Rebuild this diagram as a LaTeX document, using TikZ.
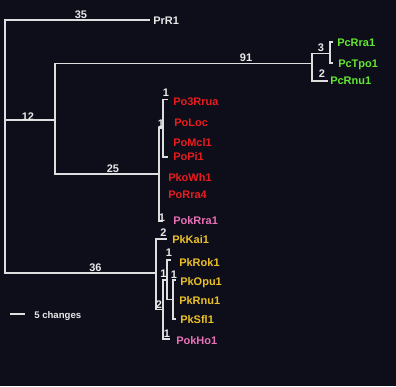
\documentclass[tikz,border=0pt]{standalone}
\usepackage{fontspec}
\setmainfont{Liberation Sans}
\definecolor{bg}{RGB}{14,14,27}
\definecolor{ln}{RGB}{222,222,222}
\definecolor{tx}{RGB}{232,232,232}
\definecolor{pgreen}{RGB}{98,230,48}
\definecolor{pred}{RGB}{232,28,30}
\definecolor{ppink}{RGB}{232,112,182}
\definecolor{pyellow}{RGB}{234,192,40}
\begin{document}
\begin{tikzpicture}[
  x=0.75pt, y=-0.75pt,
  font=\bfseries\fontsize{8.25}{9}\selectfont,
  br/.style={draw=ln, line width=1pt},
  tip/.style={anchor=west, inner sep=0pt, text height=6pt, text depth=0pt},
  num/.style={inner sep=0pt, text height=6pt, text depth=0pt, text=tx},
]
\fill[bg] (0,0) rectangle (396,386);
\useasboundingbox (0,0) rectangle (396,386);
\foreach \n/\x/\y in {root/5/146, n12/55/120, n91/312/63.5, n3/330/53.5, n25/159/174,
  n1a/163/128, n36/156/273, n2b/163/309.5, n1c/167/280, n1d/173/299.5}
  \coordinate (\n) at (\x,\y);
\foreach \n/\x/\y/\tx/\ty/\c/\name in {
  prr1/150/20/153/20/tx/PrR1, pcrra1/333/42/337/42/pgreen/PcRra1,
  pctpo1/333/63/338/63.5/pgreen/PcTpo1, pcrnu1/328/81/330/80.5/pgreen/PcRnu1,
  po3rrua/168/99.5/173/101/pred/Po3Rrua, poloc/163/122/174/122/pred/PoLoc,
  pomcl1/163/142/173/142/pred/PoMcl1, popi1/168/157/173/156.5/pred/PoPi1,
  pkowh1/159/177/168/177/pred/PkoWh1, porra4/159/194.5/168/194.5/pred/PoRra4,
  pokrra1/163/221/173/220.5/ppink/PokRra1, pkkai1/167/239/172/239.5/pyellow/PkKai1,
  pkrok1/171/260/179/262/pyellow/PkRok1, pkopu1/176/280/180/281.3/pyellow/PkOpu1,
  pkrnu1/173/300/179/300.3/pyellow/PkRnu1, pksfl1/176/319/180/319.3/pyellow/PkSfl1,
  pokho1/170/339/176/340/ppink/PokHo1} {
  \coordinate (\n) at (\x,\y);
  \node[tip, text=\c] (\n-l) at (\tx,\ty) {\name};
}
\foreach \a/\b in {root/prr1, root/n12, root/n36, n12/n91, n12/n25, n91/n3, n91/pcrnu1,
  n3/pcrra1, n3/pctpo1, n25/n1a, n25/pokrra1, n1a/po3rrua, n1a/popi1, n36/pkkai1,
  n36/n2b, n2b/n1c, n2b/pokho1, n1c/pkrok1, n1c/n1d, n1d/pkopu1, n1d/pksfl1}
  \draw[br] (\a) |- (\b);
\foreach \t/\x/\y [count=\i] in {35/81/14, 12/28/116, 91/246/57, 3/321/47.5, 2/322/73,
  1/166/92.5, 1/161/123, 25/113/168, 1/162/217, 2/163.5/232.5, 36/95.5/267,
  1/169/252, 1/163.5/273, 1/174/274.5, 2/159/304, 1/167/333.5}
  \node[num] (bl\i) at (\x,\y) {\t};
\coordinate (sb1) at (10,314);
\coordinate (sb2) at (25,314);
\draw[br] (sb1) -- (sb2);
\node[tip, text=tx, font=\bfseries\fontsize{7.2}{8}\selectfont, text height=5.2pt] (sbl) at (34,315) {5 changes};
\end{tikzpicture}
\end{document}
